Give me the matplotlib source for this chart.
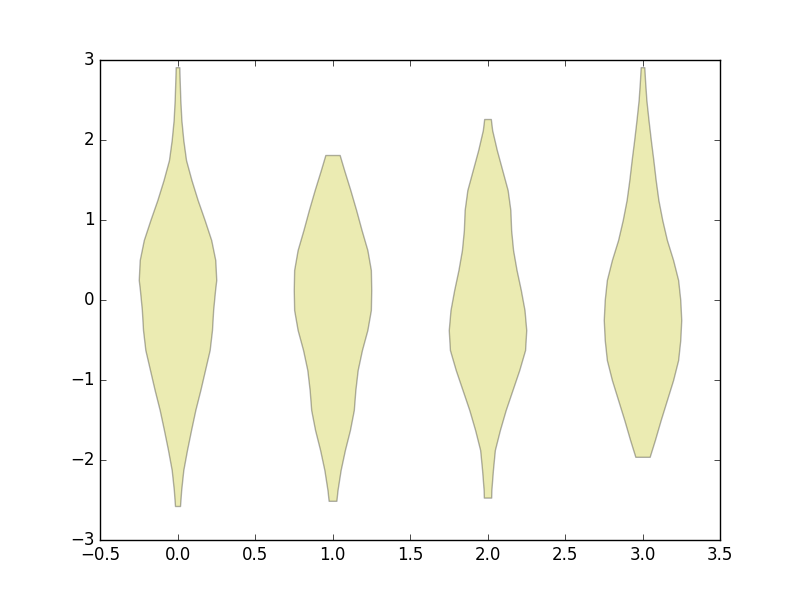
import numpy as np
import matplotlib
matplotlib.use("Agg")
import matplotlib.pyplot as plt

# Violin outlines: y positions (top to bottom) and
# relative half-widths (each violin is scaled so its widest point is 1.0)
pos = [0, 1, 2, 3]

y0 = [2.91, 2.75, 2.5, 2.25, 2.0, 1.75, 1.5, 1.25, 1.0, 0.75, 0.5, 0.25,
      0.125, -0.125, -0.375, -0.625, -0.875, -1.125, -1.375, -1.625,
      -1.875, -2.125, -2.375, -2.575]
w0 = [0.047, 0.056, 0.073, 0.10, 0.15, 0.22, 0.36, 0.52, 0.70, 0.87, 0.975,
      1.0, 0.97, 0.92, 0.89, 0.83, 0.71, 0.59, 0.46, 0.35, 0.245, 0.15,
      0.095, 0.065]

y1 = [1.8125, 1.625, 1.375, 1.125, 0.875, 0.625, 0.375, 0.125, -0.125,
      -0.375, -0.625, -0.875, -1.125, -1.375, -1.625, -1.875, -2.125,
      -2.375, -2.51]
w1 = [0.185, 0.30, 0.46, 0.61, 0.75, 0.90, 0.99, 1.0, 0.99, 0.90, 0.76,
      0.65, 0.59, 0.55, 0.45, 0.32, 0.21, 0.13, 0.10]

y2 = [2.2625, 2.125, 1.875, 1.625, 1.375, 1.125, 0.875, 0.625, 0.375,
      0.125, -0.125, -0.375, -0.625, -0.875, -1.125, -1.375, -1.625,
      -1.875, -2.125, -2.375, -2.47]
w2 = [0.086, 0.12, 0.24, 0.38, 0.52, 0.59, 0.61, 0.66, 0.75, 0.86, 0.955,
      1.0, 0.97, 0.82, 0.645, 0.47, 0.32, 0.19, 0.14, 0.10, 0.095]

y3 = [2.91, 2.75, 2.5, 2.25, 2.0, 1.75, 1.5, 1.25, 1.0, 0.75, 0.5, 0.25,
      0.0, -0.25, -0.5, -0.75, -1.0, -1.25, -1.5, -1.75, -1.96]
w3 = [0.047, 0.065, 0.10, 0.155, 0.215, 0.28, 0.34, 0.41, 0.51, 0.63, 0.79,
      0.92, 0.975, 1.0, 0.975, 0.92, 0.79, 0.63, 0.47, 0.32, 0.185]


def make_stats(ys, ws):
    ys = np.asarray(ys, dtype=float)[::-1]
    ws = np.asarray(ws, dtype=float)[::-1]
    return {
        "coords": ys,
        "vals": ws,
        "mean": float(np.mean(ys)),
        "median": float(np.median(ys)),
        "min": float(ys.min()),
        "max": float(ys.max()),
        "quantiles": [],
    }


plt.style.use("classic")
fig, ax = plt.subplots(figsize=(8, 6), dpi=100)

vpstats = [make_stats(y0, w0), make_stats(y1, w1),
           make_stats(y2, w2), make_stats(y3, w3)]
parts = ax.violin(vpstats, positions=pos, widths=0.5,
                  showmeans=False, showextrema=False, showmedians=False)
for body in parts["bodies"]:
    body.set_facecolor("y")
    body.set_edgecolor("k")
    body.set_linewidth(1.0)
    body.set_alpha(0.3)

ax.set_xlim(-0.5, 3.5)
ax.set_ylim(-3, 3)

fig.savefig("out.png", dpi=100)
